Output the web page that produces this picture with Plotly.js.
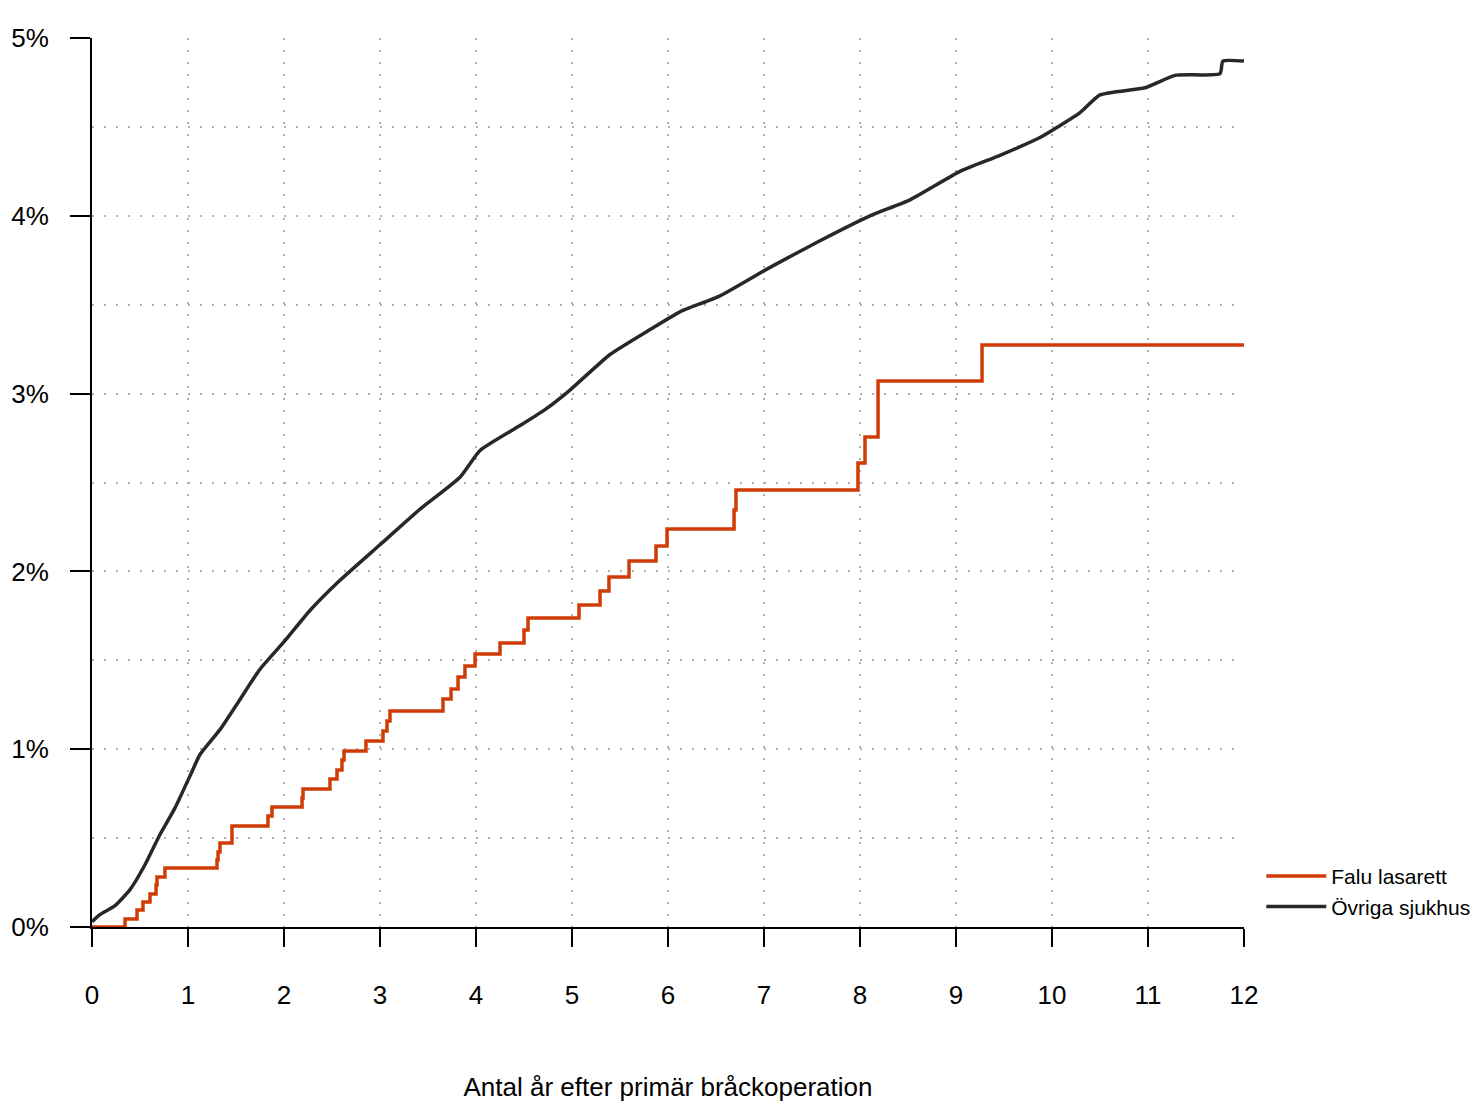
<!DOCTYPE html>
<html>
<head>
<meta charset="utf-8">
<script src="https://cdn.plot.ly/plotly-2.35.2.min.js"></script>
<style>body{margin:0;background:#fff}#plot{width:1483px;height:1102px}</style>
</head>
<body>
<div id="plot"></div>
<script>
// Falu lasarett (step function)
const faluX = [0, 0.344, 0.469, 0.531, 0.604, 0.667, 0.677, 0.760, 1.302, 1.313, 1.333, 1.458, 1.833, 1.875, 2.188, 2.198, 2.479, 2.552, 2.604, 2.625, 2.854, 3.031, 3.073, 3.104, 3.656, 3.740, 3.813, 3.885, 3.990, 4.250, 4.500, 4.542, 5.073, 5.292, 5.385, 5.594, 5.875, 5.990, 6.688, 6.708, 7.979, 8.052, 8.188, 9.271, 12];
const faluY = [0, 0.045, 0.096, 0.141, 0.186, 0.236, 0.281, 0.332, 0.377, 0.422, 0.472, 0.568, 0.624, 0.675, 0.726, 0.776, 0.832, 0.883, 0.939, 0.990, 1.046, 1.102, 1.159, 1.215, 1.282, 1.339, 1.406, 1.468, 1.535, 1.597, 1.670, 1.738, 1.811, 1.890, 1.969, 2.058, 2.143, 2.238, 2.345, 2.458, 2.610, 2.756, 3.071, 3.273, 3.273];
// Övriga sjukhus
const ovrX = [0, 0.083, 0.24, 0.396, 0.552, 0.708, 0.865, 1.021, 1.125, 1.333, 1.542, 1.75, 2.01, 2.27, 2.583, 3.0, 3.417, 3.833, 4.042, 4.458, 4.719, 4.979, 5.396, 5.813, 6.125, 6.542, 7.063, 7.583, 8.104, 8.521, 9.042, 9.458, 9.875, 10.292, 10.5, 10.969, 11.281, 11.75, 11.78, 12];
const ovrY = [0.03, 0.07, 0.12, 0.21, 0.35, 0.52, 0.67, 0.85, 0.97, 1.11, 1.28, 1.45, 1.61, 1.78, 1.95, 2.15, 2.35, 2.53, 2.68, 2.82, 2.91, 3.02, 3.22, 3.36, 3.46, 3.55, 3.71, 3.86, 4.00, 4.09, 4.25, 4.34, 4.44, 4.58, 4.68, 4.72, 4.79, 4.80, 4.87, 4.87];

const xTicks = [0,1,2,3,4,5,6,7,8,9,10,11,12];
const yTicks = [0,1,2,3,4,5];
const yLabels = ['0%','1%','2%','3%','4%','5%'];

const traces = [
  {x: faluX, y: faluY, name: 'Falu lasarett', mode: 'lines', line: {color: '#d03c06', width: 3.5, shape: 'hv'}},
  {x: ovrX, y: ovrY, name: 'Övriga sjukhus', mode: 'lines', line: {color: '#282828', width: 3.5, shape: 'spline', smoothing: 0.5}}
];

const dots = '2px,10px';
const layout = {
  width: 1483, height: 1102,
  margin: {l: 92, r: 239, t: 38, b: 175, autoexpand: false},
  paper_bgcolor: '#fff', plot_bgcolor: '#fff',
  font: {family: 'Liberation Sans, Arial, sans-serif', size: 26, color: '#000'},
  xaxis: {
    range: [0, 12], tickvals: xTicks, ticktext: xTicks.map(String),
    tickfont: {size: 26}, ticklabelstandoff: 26,
    showline: true, linecolor: '#000', linewidth: 2, zeroline: false,
    ticks: 'outside', ticklen: 18, tickwidth: 1.5, tickcolor: '#000',
    gridcolor: '#b0b0b0', griddash: dots, gridwidth: 1.5,
    title: {text: 'Antal år efter primär bråckoperation', standoff: 74, font: {size: 26}}
  },
  yaxis: {
    range: [0, 5], tickvals: yTicks, ticktext: yLabels,
    tickfont: {size: 26}, ticklabelstandoff: 16,
    showline: true, linecolor: '#000', linewidth: 2, zeroline: false,
    ticks: 'outside', ticklen: 20, tickwidth: 1.5, tickcolor: '#000',
    gridcolor: '#b0b0b0', griddash: dots, gridwidth: 1.5,
    minor: {dtick: 0.5, showgrid: true, gridcolor: '#b0b0b0', griddash: dots, gridwidth: 1.5, ticks: ''}
  },
  showlegend: true,
  legend: {x: 1.015, y: 0.04, xanchor: 'left', yanchor: 'middle', font: {size: 21}, bgcolor: 'rgba(0,0,0,0)', tracegroupgap: 6, itemwidth: 60}
};

Plotly.newPlot('plot', traces, layout, {displayModeBar: false});
</script>
</body>
</html>
